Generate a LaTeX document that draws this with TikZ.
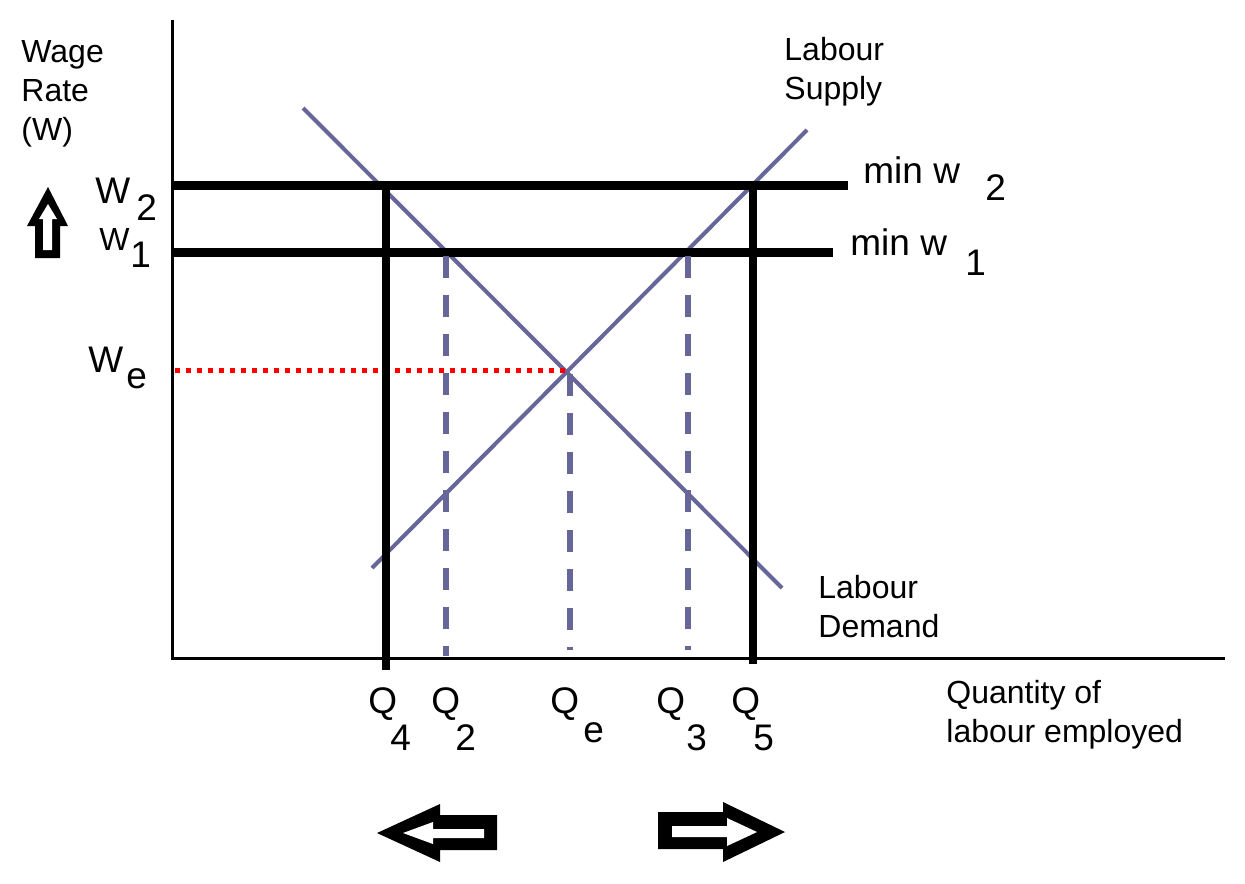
\documentclass[tikz,border=0pt]{standalone}
\usepackage{fontspec}
\setmainfont{Liberation Sans}
\begin{document}
\begin{tikzpicture}[x=0.5pt,y=-0.5pt,
  axis/.style={line width=1.5pt,black},
  curve/.style={line width=2pt,color=curvecol},
  minline/.style={line width=4.5pt,black},
  qline/.style={line width=4pt,black},
  dashline/.style={line width=3pt,color=curvecol,dash pattern=on 11pt off 8.5pt},
  dotline/.style={line width=2.5pt,red,dash pattern=on 2.5pt off 3pt},
  lbl/.style={inner sep=0pt,font=\fontsize{16}{19.5}\selectfont,align=left},
  big/.style={inner sep=0pt,font=\fontsize{18.5}{22}\selectfont},
  med/.style={inner sep=0pt,font=\fontsize{16}{19}\selectfont}]
\definecolor{curvecol}{RGB}{102,102,153}
\useasboundingbox (0,0) rectangle (1245,883);
\fill[white] (0,0) rectangle (1245,883);
% coordinates
\coordinate (O) at (172,658);
\coordinate (ytop) at (172,20);
\coordinate (xend) at (1225,658);
\coordinate (sS) at (372,568);
\coordinate (sE) at (807,130);
\coordinate (dS) at (303,108);
\coordinate (dE) at (782,588);
\coordinate (w2a) at (172,185);
\coordinate (w2b) at (848,185);
\coordinate (w1a) at (172,252);
\coordinate (w1b) at (833,252);
\coordinate (q4a) at (386,181);
\coordinate (q4b) at (386,670);
\coordinate (q5a) at (753,181);
\coordinate (q5b) at (753,664);
\coordinate (q2a) at (446,256);
\coordinate (q2b) at (446,656);
\coordinate (qea) at (570,374);
\coordinate (qeb) at (570,650);
\coordinate (q3a) at (688,256);
\coordinate (q3b) at (688,650);
\coordinate (wea) at (175,370);
\coordinate (web) at (567,370);
% curves
\draw[curve] (sS) -- (sE);
\draw[curve] (dS) -- (dE);
\draw[dotline] (wea) -- (web);
% axes
\draw[axis] (ytop) -- (O) -- (xend);
% minimum wage lines
\draw[minline] (w2a) -- (w2b);
\draw[minline] (w1a) -- (w1b);
\draw[qline] (q4a) -- (q4b);
\draw[qline] (q5a) -- (q5b);
\draw[dashline] (q2a) -- (q2b);
\draw[dashline] (qea) -- (qeb);
\draw[dashline] (q3a) -- (q3b);
% labels
\node[lbl,anchor=north west] (wage) at (21,40) {Wage\\Rate\\(W)};
\node[lbl,anchor=north west] (supply) at (784,37) {Labour\\Supply};
\node[lbl,anchor=north west] (demand) at (818,575) {Labour\\Demand};
\node[lbl,anchor=north west] (qty) at (946,680) {Quantity of\\labour employed};
\node[big,anchor=base west] (W2) at (95,203) {W};
\node[big,anchor=base west] (W2s) at (136,220) {2};
\node[med,anchor=base west] (W1) at (99,250) {W};
\node[big,anchor=base west] (W1s) at (130,267) {1};
\node[big,anchor=base west] (We) at (88,372) {W};
\node[big,anchor=base west] (Wes) at (126,388) {e};
\node[big,anchor=base west] (mw2) at (863,183) {min w};
\node[big,anchor=base west] (mw2s) at (985,200) {2};
\node[big,anchor=base west] (mw1) at (850,255) {min w};
\node[big,anchor=base west] (mw1s) at (965,275) {1};
\node[big,anchor=base west] (Q4) at (368,713) {Q};
\node[big,anchor=base west] (Q4s) at (390,750) {4};
\node[big,anchor=base west] (Q2) at (431,713) {Q};
\node[big,anchor=base west] (Q2s) at (455,750) {2};
\node[big,anchor=base west] (Qe) at (550,713) {Q};
\node[big,anchor=base west] (Qes) at (583,742) {e};
\node[big,anchor=base west] (Q3) at (656,713) {Q};
\node[big,anchor=base west] (Q3s) at (686,750) {3};
\node[big,anchor=base west] (Q5) at (731,713) {Q};
\node[big,anchor=base west] (Q5s) at (753,750) {5};
% block arrows
\fill[black] (48,187) -- (68,226) -- (60,226) -- (60,258) -- (35,258) -- (35,226) -- (27,226) -- cycle;
\fill[white] (48,204) -- (57,219) -- (52,219) -- (52,250) -- (43,250) -- (43,219) -- (39,219) -- cycle;
\fill[black] (377,833) -- (440,804) -- (440,815) -- (497,815) -- (497,850) -- (440,850) -- (440,862) -- cycle;
\fill[white] (403,833) -- (433,822) -- (433,829) -- (484,829) -- (484,838) -- (433,838) -- (433,844) -- cycle;
\fill[black] (658,812) -- (723,812) -- (723,802) -- (785,832) -- (723,862) -- (723,849) -- (658,849) -- cycle;
\fill[white] (672,826) -- (727,826) -- (727,818) -- (757,832) -- (727,846) -- (727,837) -- (672,837) -- cycle;
\end{tikzpicture}
\end{document}
